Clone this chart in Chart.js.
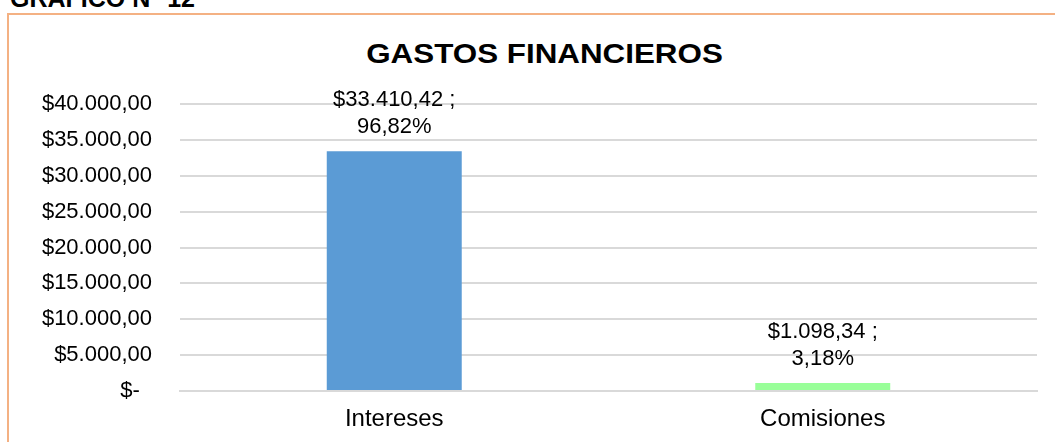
<!DOCTYPE html>
<html>
<head>
<meta charset="utf-8">
<script src="https://cdn.jsdelivr.net/npm/chart.js@4"></script>
<style>
  html, body { margin: 0; padding: 0; background: #fff; overflow: hidden; }
  body { width: 1055px; height: 442px; position: relative; font-family: "Liberation Sans", Arial, sans-serif; }
  #heading { position: absolute; left: 10px; top: -14px; font-size: 25px; line-height: 25px; font-weight: bold; color: #000; white-space: nowrap; }
  #frame { position: absolute; left: 7px; top: 13px; width: 1100px; height: 500px; border: 2px solid #f4b183; }
  #title { position: absolute; left: 0; width: 1089px; top: 40px; text-align: center; font-size: 28px; line-height: 28px; font-weight: bold; color: #000; transform: scaleX(1.12); }
  canvas { position: absolute; left: 0; top: 0; }
</style>
</head>
<body>
<div id="heading">GRÁFICO N° 12</div>
<div id="frame"></div>
<div id="title">GASTOS FINANCIEROS</div>
<canvas id="chart" width="1055" height="442"></canvas>
<script>
const categories = ['Intereses', 'Comisiones'];
const amounts = [33410.42, 1098.34];
const barColors = ['#5b9bd5', '#99ff99'];
const yMin = 0;
const yMax = 40000;
const yStep = 5000;

const total = amounts.reduce((a, b) => a + b, 0);

function money(v) {
  const [int, dec] = v.toFixed(2).split('.');
  return '$' + int.replace(/\B(?=(\d{3})+(?!\d))/g, '.') + ',' + dec;
}
function pct(v) {
  return (v / total * 100).toFixed(2).replace('.', ',') + '%';
}

// value ; percent labels above each bar
const barLabels = {
  id: 'barLabels',
  afterDatasetsDraw(chart) {
    const ctx = chart.ctx;
    const meta = chart.getDatasetMeta(0);
    ctx.save();
    ctx.font = '22px "Liberation Sans", Arial, sans-serif';
    ctx.fillStyle = '#000';
    ctx.textAlign = 'center';
    ctx.textBaseline = 'middle';
    meta.data.forEach((bar, i) => {
      ctx.fillText(money(amounts[i]) + ' ;', bar.x, bar.y - 51.5);
      ctx.fillText(pct(amounts[i]), bar.x, bar.y - 24.5);
    });
    ctx.restore();
  }
};

Chart.defaults.font.family = '"Liberation Sans", Arial, sans-serif';
Chart.defaults.color = '#000';

new Chart(document.getElementById('chart'), {
  type: 'bar',
  data: {
    labels: categories,
    datasets: [{
      data: amounts,
      backgroundColor: barColors,
      borderWidth: 0,
      barPercentage: 0.315,
      categoryPercentage: 1
    }]
  },
  options: {
    responsive: false,
    animation: false,
    layout: { padding: { top: 104, right: 18, bottom: 0, left: 0 } },
    plugins: {
      legend: { display: false },
      tooltip: { enabled: false },
      title: { display: false }
    },
    scales: {
      x: {
        grid: { display: false, drawTicks: false },
        border: { display: true, color: '#d9d9d9', width: 2 },
        ticks: { font: { size: 24 }, padding: 14 },
        afterFit(scale) { scale.height = 51; }
      },
      y: {
        min: yMin,
        max: yMax,
        grid: { color: '#d9d9d9', lineWidth: 2, drawTicks: false },
        border: { display: false },
        ticks: {
          stepSize: yStep,
          font: { size: 22 },
          padding: 28,
          callback: v => v === 0 ? '$-  ' : money(v)
        },
        afterFit(scale) { scale.width = 180; }
      }
    }
  },
  plugins: [barLabels]
});
</script>
</body>
</html>
